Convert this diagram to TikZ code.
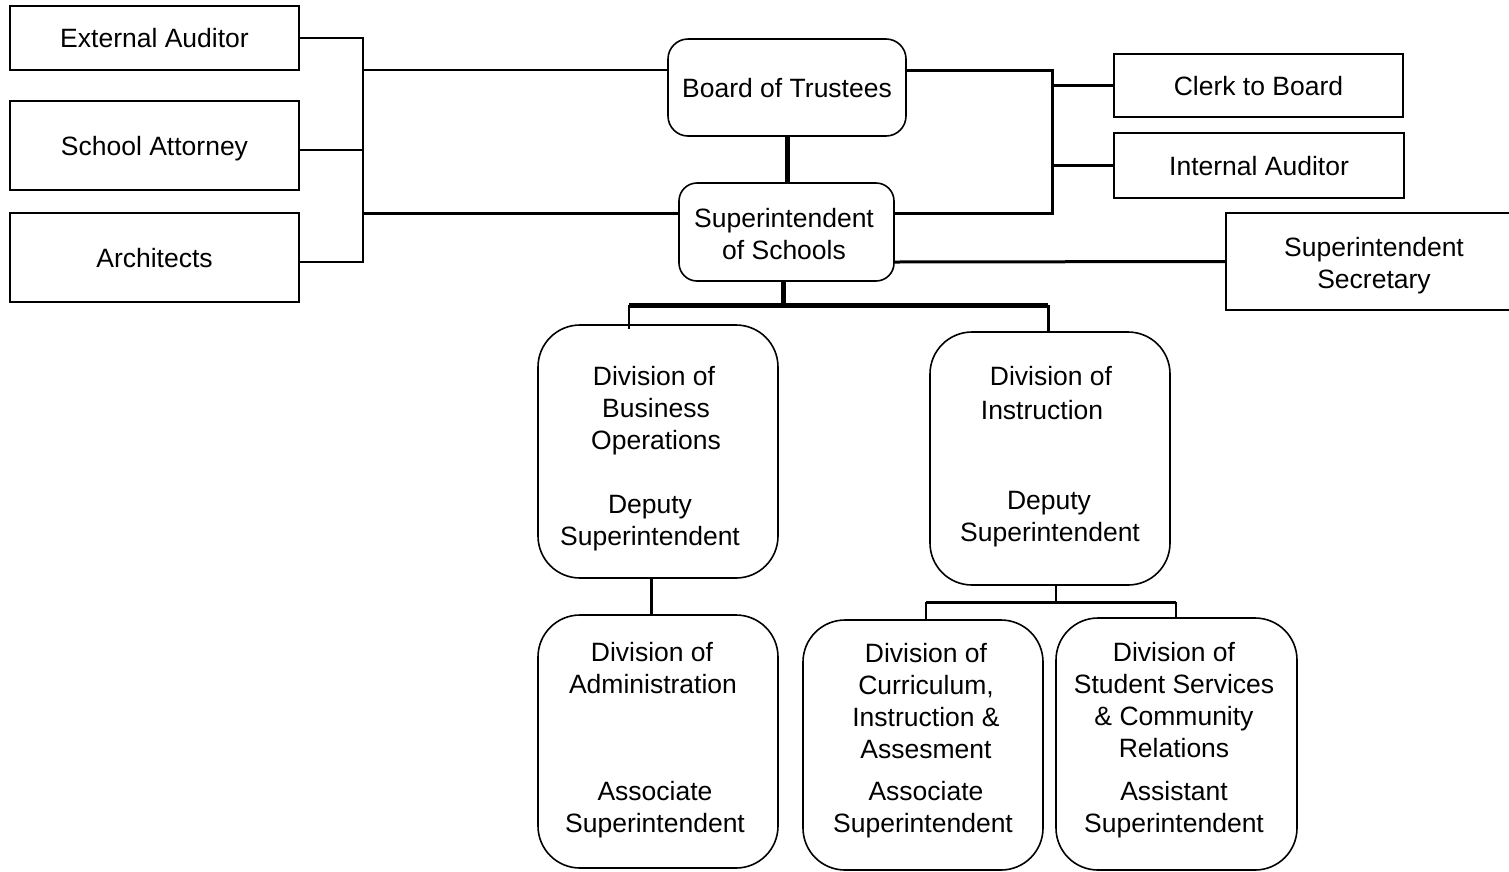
\documentclass[tikz,border=0pt]{standalone}
\usepackage{fontspec}
\setmainfont{Liberation Sans}
\begin{document}
\begin{tikzpicture}[x=1pt,y=-1pt,
 every node/.style={font=\fontsize{26.5}{32}\selectfont, inner sep=0pt},
 sqbox/.style={draw, line width=1.6pt, text height=19pt, text depth=0pt},
 rbox/.style={draw, line width=1.6pt, rounded corners=#1},
 rbox/.default=20pt,
 ln/.style={anchor=base},
 thinl/.style={line width=1.8pt},
 medl/.style={line width=3pt},
 thickl/.style={line width=5pt}]
\clip (0,0) rectangle (1509,871);
\useasboundingbox (0,0) rectangle (1509,871);

% left boxes
\node[sqbox, minimum width=289pt, minimum height=64pt] (ext) at (154.5,38) {External Auditor};
\node[sqbox, minimum width=289pt, minimum height=89pt] (att) at (154.5,145.5) {School Attorney};
\node[sqbox, minimum width=289pt, minimum height=89pt] (arch) at (154.5,257.5) {Architects};

% centre top
\node[rbox=20pt, minimum width=238pt, minimum height=97pt, text height=19pt, text depth=0pt] (board) at (787,87.5) {Board of Trustees};
\node[rbox=18pt, minimum width=215pt, minimum height=98pt] (supt) at (786.5,232) {};
\node[ln] at (784,227.5) {Superintendent};
\node[ln] at (784,259.5) {of Schools};

% right boxes
\node[sqbox, minimum width=289pt, minimum height=63pt] (clerk) at (1258.5,85.5) {Clerk to Board};
\node[sqbox, minimum width=290pt, minimum height=65pt] (iaud) at (1259,165.5) {Internal Auditor};
\node[sqbox, minimum width=296pt, minimum height=97pt] (sec) at (1374,261.5) {};
\node[ln] at (1374,256.5) {Superintendent};
\node[ln] at (1374,288.5) {Secretary};

% divisions
\node[rbox=42pt, minimum width=240pt, minimum height=253pt] (bus) at (658,451.5) {};
\node[ln] at (654,385.5) {Division of};
\node[ln] at (656,417.5) {Business};
\node[ln] at (656,449.5) {Operations};
\node[ln] at (650,513.5) {Deputy};
\node[ln] at (650,545.5) {Superintendent};

\node[rbox=42pt, minimum width=240pt, minimum height=253pt] (ins) at (1050,458.5) {};
\node[ln] at (1051,385.5) {Division of};
\node[ln] at (1042,419.5) {Instruction};
\node[ln] at (1049,509.5) {Deputy};
\node[ln] at (1050,541.5) {Superintendent};

\node[rbox=42pt, minimum width=240pt, minimum height=253pt] (adm) at (658,741.5) {};
\node[ln] at (652,661.5) {Division of};
\node[ln] at (653,693.5) {Administration};
\node[ln] at (655,800.5) {Associate};
\node[ln] at (655,832.5) {Superintendent};

\node[rbox=42pt, minimum width=240pt, minimum height=250pt] (cur) at (923,745) {};
\node[ln] at (926,662.5) {Division of};
\node[ln] at (926,694.5) {Curriculum,};
\node[ln] at (926,726.5) {Instruction \&};
\node[ln] at (926,758.5) {Assesment};
\node[ln] at (926,800.5) {Associate};
\node[ln] at (923,832.5) {Superintendent};

\node[rbox=42pt, minimum width=241pt, minimum height=252pt] (stu) at (1176.5,744) {};
\node[ln] at (1174,661.5) {Division of};
\node[ln] at (1174,693.5) {Student Services};
\node[ln] at (1174,725.5) {\& Community};
\node[ln] at (1174,757.5) {Relations};
\node[ln] at (1174,800.5) {Assistant};
\node[ln] at (1174,832.5) {Superintendent};

% left bracket
\coordinate (lt) at (363,38);
\coordinate (lb) at (363,262);
\draw[thinl] (ext.east) -- (lt) -- (lb) -- (arch.east |- lb);
\draw[thinl] ([yshift=-4.5pt]att.east) -- (363,150);
\draw[thinl] ([yshift=17.5pt]board.west) -- (363,70);
\draw[medl] ([yshift=19pt]supt.west) -- (363,213);

% right bracket
\coordinate (rt) at (1052,70);
\coordinate (rb) at (1052,213);
\draw[medl] ([yshift=17.5pt]board.east) -- (rt) -- (rb) -- ([yshift=19pt]supt.east);
\draw[medl] (1052,85.5) -- (clerk.west);
\draw[medl] (1052,165.5) -- (iaud.west);
\draw[medl] ([yshift=-30pt]supt.east) -- (sec.west);

% board to superintendent
\draw[thickl] (board.south) -- (board.south |- supt.north);

% superintendent to divisions
\coordinate (sj) at (783,305);
\draw[thickl] ([xshift=-3.5pt]supt.south) -- (sj);
\draw[thickl] (629,305) -- (1048,305);
\draw[thinl] (629,305) -- (629,329);
\draw[medl] (1048,305) -- (1048,332);

% business to administration
\draw[medl] ([xshift=-7pt]bus.south) -- ([xshift=-7pt]adm.north);

% instruction to sub-divisions
\coordinate (ij) at (1056,602);
\draw[thinl] ([xshift=6pt]ins.south) -- (ij);
\draw[medl] (926,602) -- (1176,602);
\draw[thinl] (926,602) -- (926,620);
\draw[thinl] (1176,602) -- (1176,618);
\end{tikzpicture}
\end{document}
